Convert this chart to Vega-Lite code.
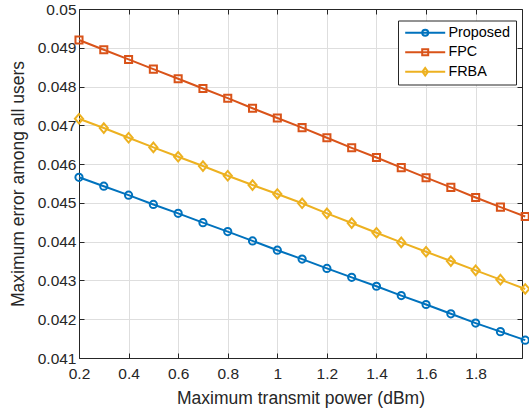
{
  "$schema": "https://vega.github.io/schema/vega-lite/v6.json",
  "width": 443,
  "height": 349,
  "autosize": {"type": "none"},
  "padding": {"left": 79, "top": 9, "right": 7, "bottom": 57},
  "background": "white",
  "config": {
    "view": {"stroke": null},
    "font": "Liberation Sans",
    "axis": {
      "domainColor": "#262626",
      "tickColor": "#262626",
      "labelColor": "#262626",
      "titleColor": "#262626",
      "labelFont": "Liberation Sans",
      "titleFont": "Liberation Sans",
      "labelFontSize": 15.5,
      "titleFontSize": 17.5,
      "titleFontWeight": "normal",
      "gridColor": "#dedede",
      "gridWidth": 1,
      "domainWidth": 1,
      "tickWidth": 1,
      "labelFlush": false,
      "labelOverlap": false
    }
  },
  "data": {"values": [
    {"x": 0.2, "series": "Proposed", "y": 0.04566},
    {"x": 0.3, "series": "Proposed", "y": 0.04543},
    {"x": 0.4, "series": "Proposed", "y": 0.0452},
    {"x": 0.5, "series": "Proposed", "y": 0.04496},
    {"x": 0.6, "series": "Proposed", "y": 0.04473},
    {"x": 0.7, "series": "Proposed", "y": 0.04449},
    {"x": 0.8, "series": "Proposed", "y": 0.04426},
    {"x": 0.9, "series": "Proposed", "y": 0.04402},
    {"x": 1.0, "series": "Proposed", "y": 0.04378},
    {"x": 1.1, "series": "Proposed", "y": 0.04355},
    {"x": 1.2, "series": "Proposed", "y": 0.04331},
    {"x": 1.3, "series": "Proposed", "y": 0.04308},
    {"x": 1.4, "series": "Proposed", "y": 0.04285},
    {"x": 1.5, "series": "Proposed", "y": 0.04261},
    {"x": 1.6, "series": "Proposed", "y": 0.04238},
    {"x": 1.7, "series": "Proposed", "y": 0.04214},
    {"x": 1.8, "series": "Proposed", "y": 0.0419},
    {"x": 1.9, "series": "Proposed", "y": 0.04168},
    {"x": 2.0, "series": "Proposed", "y": 0.04146},
    {"x": 0.2, "series": "FPC", "y": 0.0492},
    {"x": 0.3, "series": "FPC", "y": 0.04895},
    {"x": 0.4, "series": "FPC", "y": 0.0487},
    {"x": 0.5, "series": "FPC", "y": 0.04845},
    {"x": 0.6, "series": "FPC", "y": 0.0482},
    {"x": 0.7, "series": "FPC", "y": 0.04795},
    {"x": 0.8, "series": "FPC", "y": 0.0477},
    {"x": 0.9, "series": "FPC", "y": 0.04744},
    {"x": 1.0, "series": "FPC", "y": 0.04719},
    {"x": 1.1, "series": "FPC", "y": 0.04694},
    {"x": 1.2, "series": "FPC", "y": 0.04668},
    {"x": 1.3, "series": "FPC", "y": 0.04642},
    {"x": 1.4, "series": "FPC", "y": 0.04617},
    {"x": 1.5, "series": "FPC", "y": 0.04591},
    {"x": 1.6, "series": "FPC", "y": 0.04565},
    {"x": 1.7, "series": "FPC", "y": 0.0454},
    {"x": 1.8, "series": "FPC", "y": 0.04514},
    {"x": 1.9, "series": "FPC", "y": 0.04489},
    {"x": 2.0, "series": "FPC", "y": 0.04465},
    {"x": 0.2, "series": "FRBA", "y": 0.04717},
    {"x": 0.3, "series": "FRBA", "y": 0.04693},
    {"x": 0.4, "series": "FRBA", "y": 0.04668},
    {"x": 0.5, "series": "FRBA", "y": 0.04643},
    {"x": 0.6, "series": "FRBA", "y": 0.04619},
    {"x": 0.7, "series": "FRBA", "y": 0.04595},
    {"x": 0.8, "series": "FRBA", "y": 0.0457},
    {"x": 0.9, "series": "FRBA", "y": 0.04546},
    {"x": 1.0, "series": "FRBA", "y": 0.04523},
    {"x": 1.1, "series": "FRBA", "y": 0.04499},
    {"x": 1.2, "series": "FRBA", "y": 0.04473},
    {"x": 1.3, "series": "FRBA", "y": 0.04448},
    {"x": 1.4, "series": "FRBA", "y": 0.04423},
    {"x": 1.5, "series": "FRBA", "y": 0.04398},
    {"x": 1.6, "series": "FRBA", "y": 0.04374},
    {"x": 1.7, "series": "FRBA", "y": 0.0435},
    {"x": 1.8, "series": "FRBA", "y": 0.04326},
    {"x": 1.9, "series": "FRBA", "y": 0.04302},
    {"x": 2.0, "series": "FRBA", "y": 0.04278}
  ]},
  "resolve": {"axis": {"x": "independent", "y": "independent"}},
  "layer": [
    {
      "mark": {"type": "point", "filled": false, "size": 100, "strokeWidth": 2, "opacity": 0, "clip": true},
      "encoding": {
        "x": {"field": "x", "type": "quantitative",
          "scale": {"domain": [0.2, 1.987], "nice": false, "zero": false},
          "axis": {"orient": "top", "labels": false, "title": null, "grid": false, "tickSize": -5, "values": [0.2, 0.4, 0.6, 0.8, 1.0, 1.2, 1.4, 1.6, 1.8]}},
        "y": {"field": "y", "type": "quantitative",
          "scale": {"domain": [0.041, 0.05], "nice": false, "zero": false},
          "axis": {"orient": "right", "labels": false, "title": null, "grid": false, "tickSize": -5, "values": [0.041, 0.042, 0.043, 0.044, 0.045, 0.046, 0.047, 0.048, 0.049, 0.05]}},
        "color": {"field": "series", "type": "nominal",
          "scale": {"domain": ["Proposed", "FPC", "FRBA"], "range": ["#0072BD", "#D95319", "#EDB120"]},
          "legend": {
            "title": null, "orient": "none", "legendX": 319, "legendY": 11.5,
            "padding": 5, "fillColor": "white", "strokeColor": "#262626",
            "labelFont": "Liberation Sans", "labelFontSize": 14.4, "labelColor": "#000000",
            "symbolOffset": 15, "labelOffset": 16, "rowPadding": 3.5, "symbolOpacity": 1,
            "symbolStrokeWidth": 2, "symbolSize": 100, "symbolFillColor": "transparent"
          }},
        "shape": {"field": "series", "type": "nominal",
          "scale": {"domain": ["Proposed", "FPC", "FRBA"], "range": [
            "M-4,0H4M0.6,0A0.6,0.6 0 1,1 -0.6,0A0.6,0.6 0 1,1 0.6,0",
            "M-4,0H4M-0.6,-0.6H0.6V0.6H-0.6Z",
            "M-4,0H4M-0.55,0L0,-0.75L0.55,0L0,0.75Z"
          ]},
          "legend": {
            "title": null, "orient": "none", "legendX": 319, "legendY": 11.5,
            "padding": 5, "fillColor": "white", "strokeColor": "#262626",
            "labelFont": "Liberation Sans", "labelFontSize": 14.4, "labelColor": "#000000",
            "symbolOffset": 15, "labelOffset": 16, "rowPadding": 3.5, "symbolOpacity": 1,
            "symbolStrokeWidth": 2, "symbolSize": 100, "symbolFillColor": "transparent"
          }}
      }
    },
    {
      "mark": {"type": "line", "strokeWidth": 2, "clip": false},
      "encoding": {
        "x": {"field": "x", "type": "quantitative",
          "scale": {"domain": [0.2, 1.987], "nice": false, "zero": false},
          "axis": {"orient": "bottom", "title": "Maximum transmit power (dBm)", "values": [0.2, 0.4, 0.6, 0.8, 1.0, 1.2, 1.4, 1.6, 1.8], "format": "~g", "grid": true, "tickSize": -5, "labelPadding": 13, "titlePadding": 8}},
        "y": {"field": "y", "type": "quantitative",
          "scale": {"domain": [0.041, 0.05], "nice": false, "zero": false},
          "axis": {"orient": "left", "title": "Maximum error among all users", "values": [0.041, 0.042, 0.043, 0.044, 0.045, 0.046, 0.047, 0.048, 0.049, 0.05], "format": "~g", "grid": true, "tickSize": -5, "labelPadding": 8, "titlePadding": 10}},
        "color": {"field": "series", "type": "nominal", "legend": null}
      }
    },
    {
      "transform": [{"filter": "datum.series === 'Proposed'"}],
      "mark": {"type": "point", "shape": "circle", "filled": false, "size": 52, "strokeWidth": 2, "clip": false, "opacity": 1},
      "encoding": {
        "x": {"field": "x", "type": "quantitative", "scale": {"domain": [0.2, 1.987], "nice": false, "zero": false}, "axis": null},
        "y": {"field": "y", "type": "quantitative", "scale": {"domain": [0.041, 0.05], "nice": false, "zero": false}, "axis": null},
        "color": {"field": "series", "type": "nominal", "legend": null}
      }
    },
    {
      "transform": [{"filter": "datum.series === 'FPC'"}],
      "mark": {"type": "point", "shape": "square", "filled": false, "size": 50, "strokeWidth": 2, "clip": false, "opacity": 1},
      "encoding": {
        "x": {"field": "x", "type": "quantitative", "scale": {"domain": [0.2, 1.987], "nice": false, "zero": false}, "axis": null},
        "y": {"field": "y", "type": "quantitative", "scale": {"domain": [0.041, 0.05], "nice": false, "zero": false}, "axis": null},
        "color": {"field": "series", "type": "nominal", "legend": null}
      }
    },
    {
      "transform": [{"filter": "datum.series === 'FRBA'"}],
      "mark": {"type": "point", "shape": "M-0.85,0L0,-1L0.85,0L0,1Z", "filled": false, "size": 92, "strokeWidth": 2, "clip": false, "opacity": 1},
      "encoding": {
        "x": {"field": "x", "type": "quantitative", "scale": {"domain": [0.2, 1.987], "nice": false, "zero": false}, "axis": null},
        "y": {"field": "y", "type": "quantitative", "scale": {"domain": [0.041, 0.05], "nice": false, "zero": false}, "axis": null},
        "color": {"field": "series", "type": "nominal", "legend": null}
      }
    }
  ]
}
